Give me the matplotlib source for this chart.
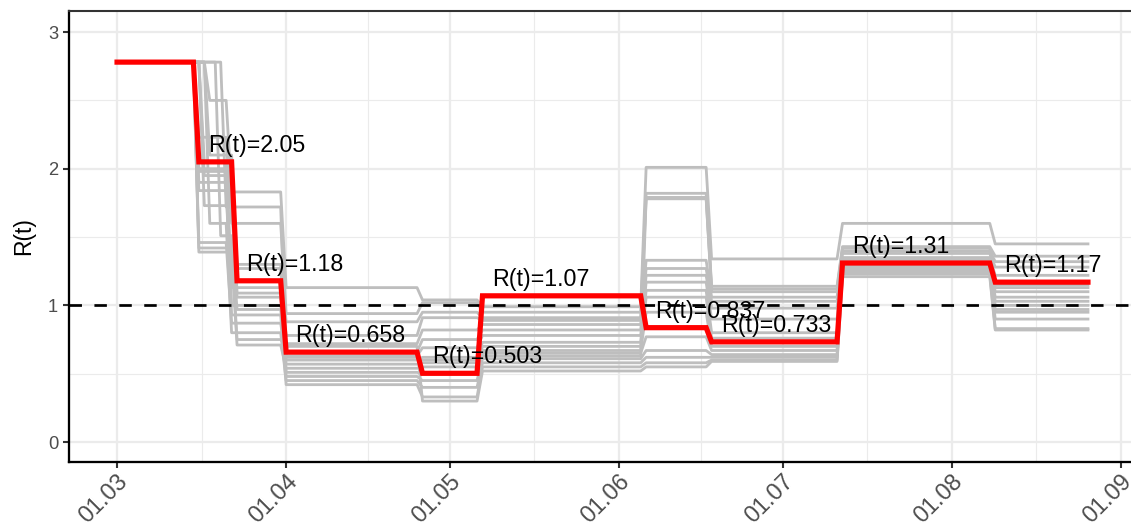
import numpy as np
import pandas as pd
import matplotlib
matplotlib.use("Agg")
import matplotlib.pyplot as plt
import matplotlib.dates as mdates

plt.rcParams['font.family'] = ['Liberation Sans', 'DejaVu Sans']

# --- data -------------------------------------------------------------
START = pd.Timestamp("2020-03-01")
LAST_DAY = 178  # days after START

# red (point estimate): day on which each level begins + level
red_start = [0, 15, 22, 31, 56, 67, 97, 109, 133, 161]
red_level = [2.78, 2.05, 1.18, 0.658, 0.503, 1.07, 0.837, 0.733, 1.31, 1.17]
red_label = ["", "R(t)=2.05", "R(t)=1.18", "R(t)=0.658", "R(t)=0.503",
             "R(t)=1.07", "R(t)=0.837", "R(t)=0.733", "R(t)=1.31", "R(t)=1.17"]

# grey (sensitivity runs): two early change days vary per run,
# later change days are shared
grey_drop1 = [17, 15, 15, 16, 16, 15, 17, 15, 19, 15, 16, 15, 17, 15, 15, 18]
grey_lvl_a = [2.50, 2.23, 2.00, 1.95, 1.73, 1.84, 2.10, 1.46, 1.51, 1.39, 2.05, 1.98, 1.60, 1.90, 1.42, 2.78]
grey_drop2 = [21, 21, 22, 21, 22, 21, 22, 21, 22, 22, 21, 22, 21, 21, 22, 20]
grey_lvl_b = [1.83, 1.60, 1.27, 1.13, 1.06, 1.00, 1.30, 0.87, 0.97, 0.71, 1.18, 1.09, 0.80, 0.93, 0.75, 1.72]
grey_common_start = [31, 56, 67, 97, 109, 133, 161]
grey_lvl_c = [1.13, 0.94, 0.88, 0.78, 0.72, 0.66, 0.63, 0.60, 0.57, 0.54, 0.51, 0.48, 0.45, 0.42, 0.70, 0.62]
grey_lvl_d = [1.04, 1.02, 0.95, 0.91, 0.82, 0.75, 0.69, 0.62, 0.58, 0.55, 0.50, 0.45, 0.40, 0.33, 0.30, 0.60]
grey_lvl_e = [0.99, 0.95, 0.91, 0.89, 0.86, 0.82, 0.78, 0.73, 0.70, 0.67, 0.65, 0.61, 0.58, 0.55, 0.52, 0.63]
grey_lvl_f = [2.01, 1.82, 1.78, 1.33, 1.27, 1.22, 1.17, 1.11, 1.06, 0.95, 0.77, 0.67, 0.62, 0.58, 0.55, 1.79]
grey_lvl_g = [1.34, 1.14, 1.10, 1.06, 1.03, 0.98, 0.90, 0.80, 0.76, 0.70, 0.67, 0.64, 0.62, 0.60, 0.59, 1.12]
grey_lvl_h = [1.60, 1.43, 1.40, 1.38, 1.35, 1.33, 1.30, 1.29, 1.28, 1.27, 1.26, 1.25, 1.24, 1.23, 1.21, 1.42]
grey_lvl_i = [1.45, 1.36, 1.32, 1.28, 1.22, 1.13, 1.10, 1.06, 1.03, 1.00, 0.97, 0.95, 0.90, 0.83, 0.82, 1.15]

REF_LEVEL = 1.0


def daily(starts, levels):
    d = np.arange(0, LAST_DAY + 1)
    idx = np.searchsorted(starts, d, side="right") - 1
    return START + pd.to_timedelta(d, unit="D"), np.asarray(levels)[idx]


fig = plt.figure(figsize=(1131 / 150, 524 / 150), dpi=150)
ax = fig.add_axes([68.5 / 1131, 0.1183, 0.9443, 0.8607])

for k in range(len(grey_lvl_a)):
    starts = [0, grey_drop1[k], grey_drop2[k]] + grey_common_start
    levels = [red_level[0], grey_lvl_a[k], grey_lvl_b[k], grey_lvl_c[k], grey_lvl_d[k],
              grey_lvl_e[k], grey_lvl_f[k], grey_lvl_g[k], grey_lvl_h[k], grey_lvl_i[k]]
    x, y = daily(starts, levels)
    ax.plot(x, y, color="#BEBEBE", lw=1.35, zorder=2)

ax.axhline(REF_LEVEL, color="black", lw=1.3, dashes=(4.6, 4.6), zorder=3)

x, y = daily(red_start, red_level)
ax.plot(x, y, color="#FF0000", lw=2.5, zorder=4, solid_joinstyle="miter")

for s, v, lab in zip(red_start, red_level, red_label):
    if lab:
        ax.text(START + pd.Timedelta(days=s + 1.7), v + 0.12, lab, fontsize=11.2,
                ha="left", va="center", color="black", zorder=5)

# axes / theme
ax.set_xlim(START - pd.Timedelta(days=8.9), START + pd.Timedelta(days=186.9))
ax.set_ylim(-0.146, 3.154)

months = pd.date_range("2020-03-01", "2020-09-01", freq="MS")
mids = months[:-1] + (months[1:] - months[:-1]) / 2
ax.set_xticks(months)
ax.set_xticks(mids, minor=True)
ax.xaxis.set_major_formatter(mdates.DateFormatter("%d.%m"))
ax.set_yticks([0, 1, 2, 3])
ax.set_yticks([0.5, 1.5, 2.5], minor=True)

ax.grid(which="major", color="#EBEBEB", lw=1.1, zorder=0)
ax.grid(which="minor", color="#EBEBEB", lw=0.55, zorder=0)
ax.set_axisbelow(True)

ax.tick_params(axis="both", which="major", length=3, width=1.0, color="#333333",
               labelsize=8.8, labelcolor="#4D4D4D")
ax.tick_params(axis="x", which="major", labelsize=11.3)
ax.tick_params(axis="both", which="minor", length=0)
ax.tick_params(axis="y", pad=2)
ax.tick_params(axis="x", pad=1)
for lab in ax.get_xticklabels():
    lab.set_rotation(45)
    lab.set_ha("right")
    lab.set_va("top")
    lab.set_rotation_mode("anchor")

ax.spines["top"].set_color("#333333")
ax.spines["top"].set_linewidth(1.0)
ax.spines["right"].set_visible(False)
for side in ("left", "bottom"):
    ax.spines[side].set_color("black")
    ax.spines[side].set_linewidth(1.1)

ax.set_ylabel("R(t)", fontsize=11, labelpad=6)
ax.set_xlabel("")

fig.savefig("out.png", dpi=150)
